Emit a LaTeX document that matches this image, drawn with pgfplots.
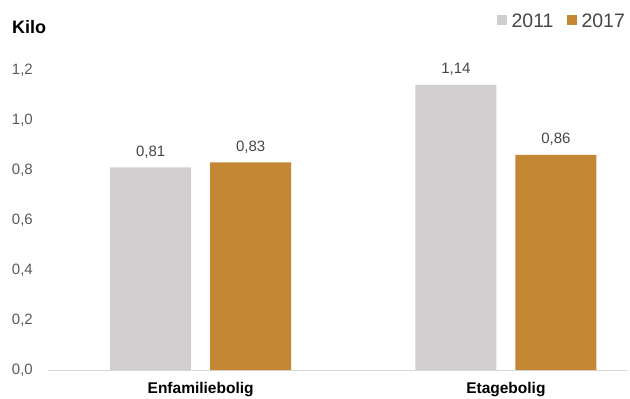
\documentclass[border=0pt]{standalone}
\usepackage{pgfplots}
\pgfplotsset{compat=1.18}
\usepackage{fontspec}
\setmainfont{Liberation Sans}
\definecolor{cgray}{RGB}{208,206,206}
\definecolor{corange}{RGB}{196,135,52}
\definecolor{ctext}{RGB}{70,70,70}
\definecolor{cticks}{RGB}{90,90,90}
\begin{document}
\begin{tikzpicture}
\useasboundingbox (-48bp,-29bp) rectangle (582bp,370bp);
\begin{axis}[
  at={(0,0)}, anchor=south west,
  scale only axis, width=580bp, height=300bp,
  ybar, bar width=81bp,
  xmin=-0.5, xmax=1.4, ymin=0, ymax=1.2,
  xtick={0,1}, xticklabels={Enfamiliebolig,Etagebolig},
  ytick={0,0.2,...,1.21},
  axis x line*=bottom, axis y line*=left,
  x axis line style={draw=black!15, line width=0.8pt},
  y axis line style={draw=none},
  major tick length=0pt,
  /pgf/number format/assume math mode=true,
  yticklabel style={/pgf/number format/use comma, /pgf/number format/fixed, /pgf/number format/fixed zerofill, /pgf/number format/precision=1},
  yticklabel style={font=\fontsize{15bp}{17bp}\selectfont, text=cticks, anchor=east, inner sep=0pt, xshift=-15bp},
  xticklabel style={font=\bfseries\fontsize{15.5bp}{17bp}\selectfont, text=black, yshift=-9bp},
  nodes near coords,
  nodes near coords style={font=\fontsize{15bp}{17bp}\selectfont, text=ctext, /pgf/number format/use comma, /pgf/number format/fixed, /pgf/number format/fixed zerofill, /pgf/number format/precision=2},
  every node near coord/.append style={yshift=6bp},
  legend style={at={(axis description cs:0.995,1.163)}, anchor=east, draw=none, fill=none, inner sep=0pt,
    legend columns=2, font=\fontsize{19.5bp}{21bp}\selectfont, text=ctext,
    nodes={inner sep=0pt, inner xsep=0pt},
    /tikz/every odd column/.append style={column sep=5bp},
    /tikz/every even column/.append style={column sep=13bp}},
  legend image code/.code={\fill[#1] (0bp,-4bp) rectangle (10bp,6bp);},
  clip=false,
]
\addplot[fill=cgray, draw=none, bar shift=-50bp] coordinates {(0,0.81) (1,1.14)};
\addplot[fill=corange, draw=none, bar shift=50bp] coordinates {(0,0.83) (1,0.86)};
\legend{2011,2017}
\node[anchor=west, inner sep=0pt, font=\bfseries\fontsize{18bp}{20bp}\selectfont] at (axis description cs:-0.062,1.143) {Kilo};
\end{axis}
\end{tikzpicture}
\end{document}
